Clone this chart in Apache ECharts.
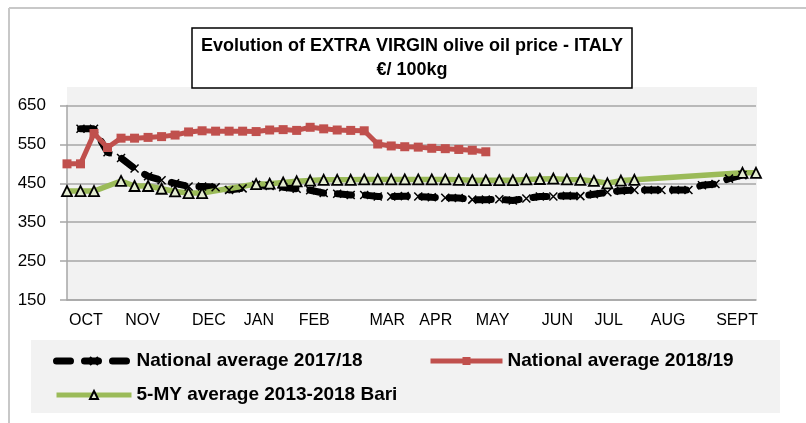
<!DOCTYPE html>
<html>
<head>
<meta charset="utf-8">
<script src="https://cdn.jsdelivr.net/npm/echarts@6/dist/echarts.min.js"></script>
<style>
  html, body { margin: 0; padding: 0; background: #fff; }
  #chart { width: 806px; height: 423px; }
</style>
</head>
<body>
<div id="chart"></div>
<script>
// weekly prices, oct -> sept (52 weeks), €/100kg
var monthLabels = ['OCT', 'NOV', 'DEC', 'JAN', 'FEB', 'MAR', 'APR', 'MAY', 'JUN', 'JUL', 'AUG', 'SEPT'];
var monthPos = [1.4, 5.6, 10.5, 14.2, 18.3, 23.7, 27.3, 31.5, 36.3, 40.1, 44.5, 49.6];
var yTicks = [150, 250, 350, 450, 550, 650];

var avg1718 = [null, 590, 590, 530, 515, 488, 468, 458, 450, 442,
    442, 440, 433, 437, 446, 443, 440, 436, 432, 425,
    423, 420, 420, 416, 416, 417, 416, 414, 413, 412,
    408, 408, 409, 406, 411, 416, 416, 418, 417, 422,
    427, 431, 433, 433, 433, 433, 433, 445, 448, 462,
    471, null];
var avg1819 = [500, 500, 578, 542, 566, 566, 568, 570, 574, 582,
    585, 584, 584, 584, 583, 587, 588, 586, 594, 590,
    587, 586, 585, 551, 546, 544, 543, 540, 539, 537,
    535, 531];
var bari5y = [430, 430, 430, null, 456, 443, 443, 436, 429, 425,
    425, null, null, null, 448, 449, 452, 455, 457, 459,
    459, 459, 460, 460, 460, 460, 460, 460, 460, 459,
    458, 458, 458, 458, 460, 461, 462, 460, 459, 456,
    450, 457, 459, null, null, null, null, null, null, null,
    477, 477];

function toPairs(arr) {
    return arr.map(function (v, i) { return [i, v]; });
}

var FONT = '"Liberation Sans", Arial, sans-serif';
var GRID = '#a6a6a6';
var legendText = { fontFamily: FONT, fontSize: 19, fontWeight: 'bold', color: '#000', lineHeight: 20 };

var chart = echarts.init(document.getElementById('chart'));
var option = {
    animation: false,
    backgroundColor: '#fff',
    graphic: [
        // outer frame (top and left edges)
        { type: 'line', z: -20, shape: { x1: 9, y1: 8, x2: 806, y2: 8 }, style: { stroke: '#c8c8c8', lineWidth: 2 } },
        { type: 'line', z: -20, shape: { x1: 9, y1: 8, x2: 9, y2: 423 }, style: { stroke: '#c8c8c8', lineWidth: 2 } },
        // plot area fill
        { type: 'rect', z: -10, shape: { x: 67, y: 87, width: 690, height: 213 }, style: { fill: '#f2f2f2' } },
        // legend box
        { type: 'rect', z: -10, shape: { x: 31, y: 340, width: 749, height: 73 }, style: { fill: '#f2f2f2' } },
        // title box
        { type: 'rect', z: 10, shape: { x: 192, y: 28, width: 440, height: 60 }, style: { fill: '#fff', stroke: '#000', lineWidth: 1.5 } },
        {
            type: 'text', z: 11,
            style: {
                x: 412, y: 34, text: 'Evolution of EXTRA VIRGIN olive oil price - ITALY\n€/ 100kg',
                textAlign: 'center', font: 'bold 18px ' + FONT, lineHeight: 24, fill: '#000'
            }
        }
    ],
    grid: { left: 67, right: 50, top: 105.5, bottom: 123 },
    xAxis: {
        type: 'value',
        min: 0,
        max: 51,
        axisLine: { show: true, lineStyle: { color: GRID, width: 1.5 } },
        axisTick: { show: false },
        splitLine: { show: false },
        axisLabel: {
            customValues: monthPos,
            margin: 13,
            color: '#000',
            fontFamily: FONT,
            fontSize: 16,
            formatter: function (v) {
                var k = monthPos.indexOf(v);
                return k >= 0 ? monthLabels[k] : '';
            }
        }
    },
    yAxis: {
        type: 'value',
        min: yTicks[0],
        max: yTicks[yTicks.length - 1],
        interval: 100,
        axisLine: { show: true, lineStyle: { color: GRID, width: 1.5 } },
        axisTick: { show: true, length: 7, lineStyle: { color: GRID, width: 1.5 } },
        splitLine: { show: true, lineStyle: { color: GRID, width: 1.5 } },
        axisLabel: { margin: 21, color: '#000', fontFamily: FONT, fontSize: 17 }
    },
    legend: [
        {
            orient: 'vertical',
            left: 48, top: 346,
            itemWidth: 75, itemHeight: 10, itemGap: 14,
            textStyle: legendText,
            data: [
                { name: 'National average 2017/18', lineStyle: { width: 7 } },
                { name: '5-MY average 2013-2018 Bari', lineStyle: { width: 5 } }
            ]
        },
        {
            left: 423, top: 346,
            itemWidth: 72, itemHeight: 10,
            textStyle: legendText,
            data: [{ name: 'National average 2018/19', lineStyle: { width: 5 } }]
        }
    ],
    series: [
        {
            name: 'National average 2017/18',
            type: 'line',
            data: toPairs(avg1718),
            symbol: 'path://M0,0L10,10M10,0L0,10',
            symbolSize: 8,
            itemStyle: { color: '#000', borderColor: '#000', borderWidth: 1.5 },
            lineStyle: { color: '#000', width: 7, type: [14, 14], cap: 'round' }
        },
        {
            name: 'National average 2018/19',
            type: 'line',
            data: toPairs(avg1819),
            symbol: 'rect',
            symbolSize: 9,
            itemStyle: { color: '#c0504d' },
            lineStyle: { color: '#c0504d', width: 5 }
        },
        {
            name: '5-MY average 2013-2018 Bari',
            type: 'line',
            data: toPairs(bari5y),
            connectNulls: true,
            symbol: 'triangle',
            symbolSize: 10,
            itemStyle: { color: '#e4ecd2', borderColor: '#000', borderWidth: 1.8 },
            lineStyle: { color: '#9bbb59', width: 5.5 }
        }
    ]
};
chart.setOption(option);
</script>
</body>
</html>
